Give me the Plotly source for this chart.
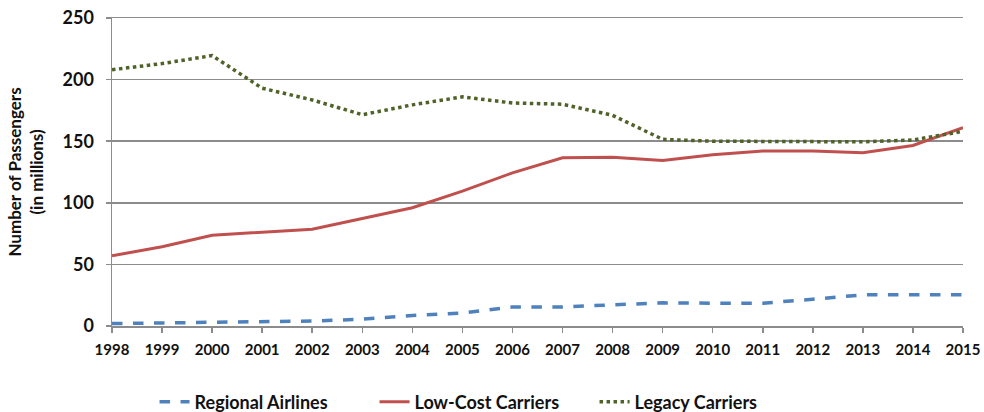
import plotly.graph_objects as go

years = [1998, 1999, 2000, 2001, 2002, 2003, 2004, 2005, 2006, 2007, 2008,
         2009, 2010, 2011, 2012, 2013, 2014, 2015]
regional = [2, 2.4, 3.5, 3.5, 4, 5.5, 8.6, 10.6, 15.5, 15.5, 17.2, 18.8,
            18.5, 18.5, 21.7, 25.3, 25.3, 25.3]
low_cost = [57, 64.3, 73.7, 76.4, 78.6, 87.3, 96, 109.5, 124.3, 136.5, 137,
            134.3, 139, 142, 142, 140.6, 146.5, 161]
legacy = [208, 213, 219.5, 193, 183.5, 171.5, 179.5, 186, 181, 180, 171,
          151.5, 150, 150, 149.5, 149.5, 151, 158]
y_ticks = [0, 50, 100, 150, 200, 250]

font_family = "Lato, 'Open Sans', sans-serif"

fig = go.Figure()
fig.add_trace(go.Scatter(x=years, y=regional, mode="lines", name="Regional Airlines",
                         line=dict(color="#4F81BD", width=3.5, dash="dash")))
fig.add_trace(go.Scatter(x=years, y=low_cost, mode="lines", name="Low-Cost Carriers",
                         line=dict(color="#C0504D", width=3)))
fig.add_trace(go.Scatter(x=years, y=legacy, mode="lines", name="Legacy Carriers",
                         line=dict(color="#4F6228", width=3.5, dash="dot")))

fig.update_layout(
    width=984, height=412,
    margin=dict(l=112, r=21, t=18, b=86, autoexpand=False),
    paper_bgcolor="white", plot_bgcolor="white",
    font=dict(family=font_family, size=14, color="#111"),
    showlegend=True,
    legend=dict(orientation="h", x=0.05, xanchor="left", y=-0.247, yanchor="middle",
                font=dict(family=font_family, size=18, color="#111", weight="bold"),
                entrywidth=175, entrywidthmode="pixels", tracegroupgap=0),
)
fig.update_xaxes(
    range=[1998, 2015], tickmode="array", tickvals=years,
    ticktext=[str(y) for y in years],
    showgrid=False, showline=True, linecolor="#8c8c8c", linewidth=1.5,
    mirror=True,
    ticks="outside", ticklen=5, tickcolor="#8c8c8c", tickwidth=1.5,
    tickfont=dict(family=font_family, size=15, weight="bold", color="#111"),
    ticklabelstandoff=4, ticklabeloverflow="allow",
    zeroline=False, fixedrange=True, automargin=False,
)
fig.update_yaxes(
    range=[0, 250], tickmode="array", tickvals=y_ticks,
    showgrid=True, gridcolor="#8c8c8c", gridwidth=1.5,
    showline=True, linecolor="#8c8c8c", linewidth=1.5,
    ticks="outside", ticklen=5, tickcolor="#8c8c8c", tickwidth=1.5,
    tickfont=dict(family=font_family, size=18, weight="bold", color="#111"),
    ticklabelstandoff=8, ticklabeloverflow="allow",
    title=dict(text="Number of Passengers<br>(in millions)", standoff=14,
               font=dict(family=font_family, size=17, weight="bold", color="#111")),
    zeroline=False, fixedrange=True, automargin=False,
)

# remove the page's default body margin so the 984x412 figure fills the window exactly
fig.write_html(
    "out.html",
    config={"displayModeBar": False, "staticPlot": True},
    post_script="document.body.style.margin='0';"
                "document.documentElement.style.overflow='hidden';",
)
